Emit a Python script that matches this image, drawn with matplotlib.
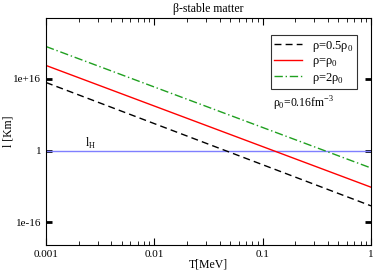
import numpy as np
import matplotlib.pyplot as plt
import matplotlib.ticker as mticker

plt.rcParams['font.family'] = ['Liberation Serif', 'DejaVu Serif']
plt.rcParams['mathtext.fontset'] = 'custom'
plt.rcParams['mathtext.rm'] = 'Liberation Serif'

# endpoints (power laws, straight on log-log)
T = [0.001, 1.0]
l_half = [1.3e15, 5e-13]     # rho = 0.5 rho0
l_one = [8e18, 7e-9]         # rho = rho0
l_two = [1.3e23, 1.3e-4]     # rho = 2 rho0
l_H = [1.0, 1.0]

fig = plt.figure(figsize=(3.74, 2.71), dpi=100)
ax = fig.add_axes([0.123, 0.096, 0.869, 0.838])

ax.plot(T, l_H, color='#7f7fff', lw=1.0)
ax.plot(T, l_half, color='black', lw=1.0, ls=(0, (5, 3)), label='ρ=0.5ρ$_\\mathrm{0}$')
ax.plot(T, l_one, color='red', lw=1.0, label='ρ=ρ$_\\mathrm{0}$')
ax.plot(T, l_two, color='#20a020', lw=1.0, ls=(0, (6, 2, 1, 2)), label='ρ=2ρ$_\\mathrm{0}$')

ax.set_xscale('log')
ax.set_yscale('log')
ax.set_xlim(0.001, 1)
ax.set_ylim(1e-21, 3e29)

ax.set_xticks([0.001, 0.01, 0.1, 1])
ax.set_xticklabels(['0.001', '0.01', '0.1', '1'])
ax.set_yticks([1e-16, 1, 1e16])
ax.set_yticklabels(['1e-16', '1', '1e+16'])
ax.yaxis.set_minor_locator(mticker.NullLocator())
ax.tick_params(which='both', direction='in', top=True, right=True, labelsize=8)
ax.tick_params(which='major', length=5)
ax.tick_params(which='minor', length=3)
ax.tick_params(axis='y', which='major', length=4, width=2.0)

ax.set_title('β-stable matter', fontsize=8.5, pad=4)
ax.set_xlabel('T[MeV]', fontsize=8.5, labelpad=0)
ax.set_ylabel('l [Km]', fontsize=8.5)
ax.yaxis.set_label_coords(-0.098, 0.5)

ax.text(0.0023, 6, 'l$_\\mathrm{H}$', fontsize=8.5)
ax.text(0.125, 3e9, 'ρ$_\\mathrm{0}$=0.16fm$^\\mathrm{-3}$', fontsize=8.5)

leg = ax.legend(loc='upper right', bbox_to_anchor=(0.957, 0.925), fontsize=9,
                frameon=True, fancybox=False, edgecolor='black',
                handlelength=2.2, handletextpad=0.8, borderpad=0.3,
                labelspacing=0.12, borderaxespad=0)
leg.get_frame().set_linewidth(0.8)

fig.savefig('out.png', dpi=100)
